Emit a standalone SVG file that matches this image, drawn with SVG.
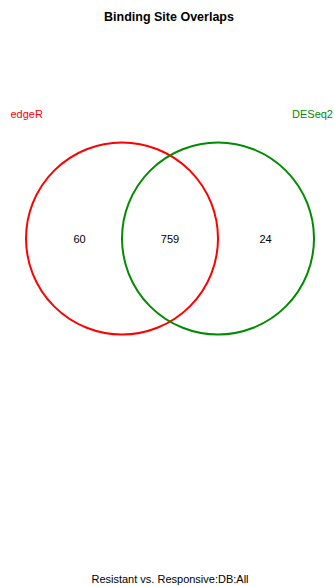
<svg xmlns="http://www.w3.org/2000/svg" width="334" height="586" viewBox="0 0 334 586">
<style>
text{font-family:"Liberation Sans",Arial,sans-serif;}
.t{font-size:12.5px;font-weight:bold;fill:#000}
.lab{font-size:11px}
.n{font-size:11px;fill:#000}
.c{fill:none;stroke-width:2}
</style>
<rect width="334" height="586" fill="#fff"/>
<text class="t" x="169" y="21" text-anchor="middle">Binding Site Overlaps</text>
<g id="edgeR">
<circle class="c" cx="122" cy="238.5" r="96" stroke="#FF0000"/>
<text class="lab" x="10.5" y="118" fill="#FF0000">edgeR</text>
</g>
<g id="DESeq2">
<circle class="c" cx="218" cy="238.5" r="96" stroke="#008B00"/>
<text class="lab" x="333" y="118" text-anchor="end" fill="#008B00">DESeq2</text>
</g>
<g id="connectors"></g>
<g id="counts">
<text class="n" x="79.5" y="242.5" text-anchor="middle">60</text>
<text class="n" x="170" y="242.5" text-anchor="middle">759</text>
<text class="n" x="265.5" y="243" text-anchor="middle">24</text>
</g>
<text class="n" x="170" y="583" text-anchor="middle">Resistant vs. Responsive:DB:All</text>
</svg>
